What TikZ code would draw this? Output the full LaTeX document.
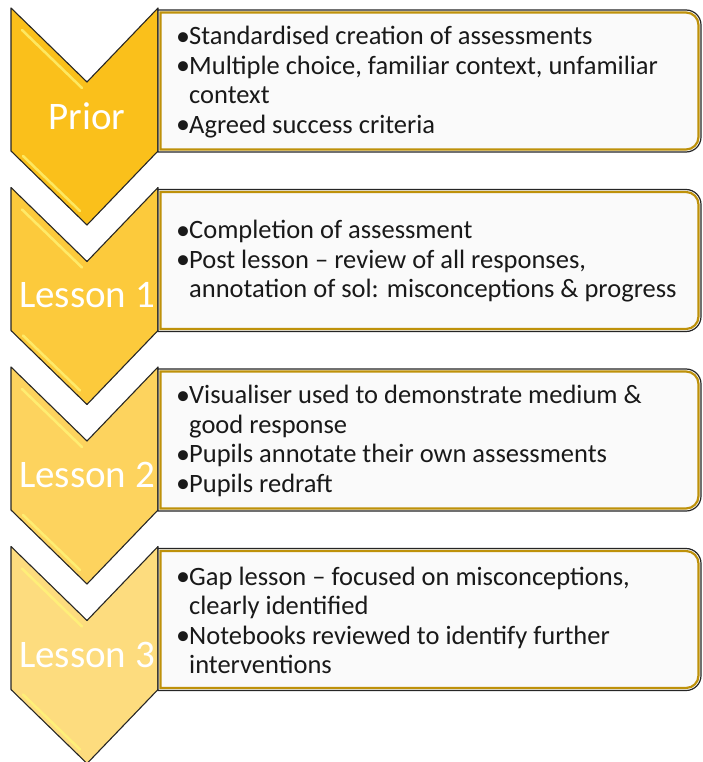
\documentclass[tikz,border=0pt]{standalone}
\usepackage{fontspec}
\setmainfont{Carlito}
\usetikzlibrary{positioning}
\definecolor{chevA}{RGB}{250,192,27}
\definecolor{chevB}{RGB}{252,202,60}
\definecolor{chevC}{RGB}{253,211,94}
\definecolor{chevD}{RGB}{253,220,126}
\definecolor{goldline}{RGB}{190,145,10}
\definecolor{shine}{RGB}{255,246,120}
\newcommand{\bl}{\makebox[13pt][l]{\fontsize{28}{0}\selectfont\raisebox{-0.5pt}{•}}}
\newcommand{\ind}{\hspace*{13pt}}
% one chevron, #1 = fill colour
\newcommand{\chevshape}[1]{%
  \draw[chev,fill=#1] (11,8) -- (87,82) -- (158,8) -- (158,151) -- (87,225) -- (11,151) -- cycle;
  \draw[hilite] (22,30) -- (82,88);
  \draw[hilite] (23,156) -- (80,211);}
\newcommand{\boxshape}{%
  \draw[boxouter] (158,10) -- (686,10) arc[start angle=-90,end angle=0,radius=15] -- (701,137) arc[start angle=0,end angle=90,radius=15] -- (158,152) -- cycle;
  \draw[boxinner] (160.5,12.5) -- (686,12.5) arc[start angle=-90,end angle=0,radius=12.5] -- (698.5,137) arc[start angle=0,end angle=90,radius=12.5] -- (160.5,149.5) -- cycle;}

\begin{document}
\begin{tikzpicture}[x=1pt,y=-1pt,
    chev/.style={draw=black!85,line width=1.1pt,line join=round},
    hilite/.style={draw=shine,line width=2.5pt,line cap=round,opacity=0.75},
    boxouter/.style={draw=black!85,line width=1.2pt,fill=white!98!black},
    boxinner/.style={draw=goldline,line width=2.2pt},
    step label/.style={text=white,font=\fontsize{39}{39}\selectfont,inner sep=0pt},
    step text/.style={anchor=west,align=left,inner sep=0pt,text=black!90,font=\fontsize{26.5}{29.5}\selectfont}]
  \useasboundingbox (0,0) rectangle (702,762);

  \begin{scope}
    \chevshape{chevA}
    \boxshape
    \node[step label] (prior) at (87,116) {Prior};
    \node[step text] (priortext) at (176,82) {\bl Standardised creation of assessments\\
      \bl Multiple choice, familiar context, unfamiliar\\ \ind context\\
      \bl Agreed success criteria};
  \end{scope}

  \begin{scope}[yshift=-179.5pt]
    \chevshape{chevB}
    \boxshape
    \node[step label] (lessonA) at (87,116) {Lesson 1};
    \node[step text] (lessonAtext) at (176,82) {\bl Completion of assessment\\
      \bl Post lesson -- review of all responses,\\ \ind annotation of sol: misconceptions \& progress};
  \end{scope}

  \begin{scope}[yshift=-359pt]
    \chevshape{chevC}
    \boxshape
    \node[step label] (lessonB) at (87,116) {Lesson 2};
    \node[step text] (lessonBtext) at (176,82) {\bl Visualiser used to demonstrate medium \&\\ \ind good response\\
      \bl Pupils annotate their own assessments\\ \bl Pupils redraft};
  \end{scope}

  \begin{scope}[yshift=-538.5pt]
    \chevshape{chevD}
    \boxshape
    \node[step label] (lessonC) at (87,116) {Lesson 3};
    \node[step text] (lessonCtext) at (176,82) {\bl Gap lesson -- focused on misconceptions,\\ \ind clearly identified\\
      \bl Notebooks reviewed to identify further\\ \ind interventions};
  \end{scope}
\end{tikzpicture}
\end{document}
